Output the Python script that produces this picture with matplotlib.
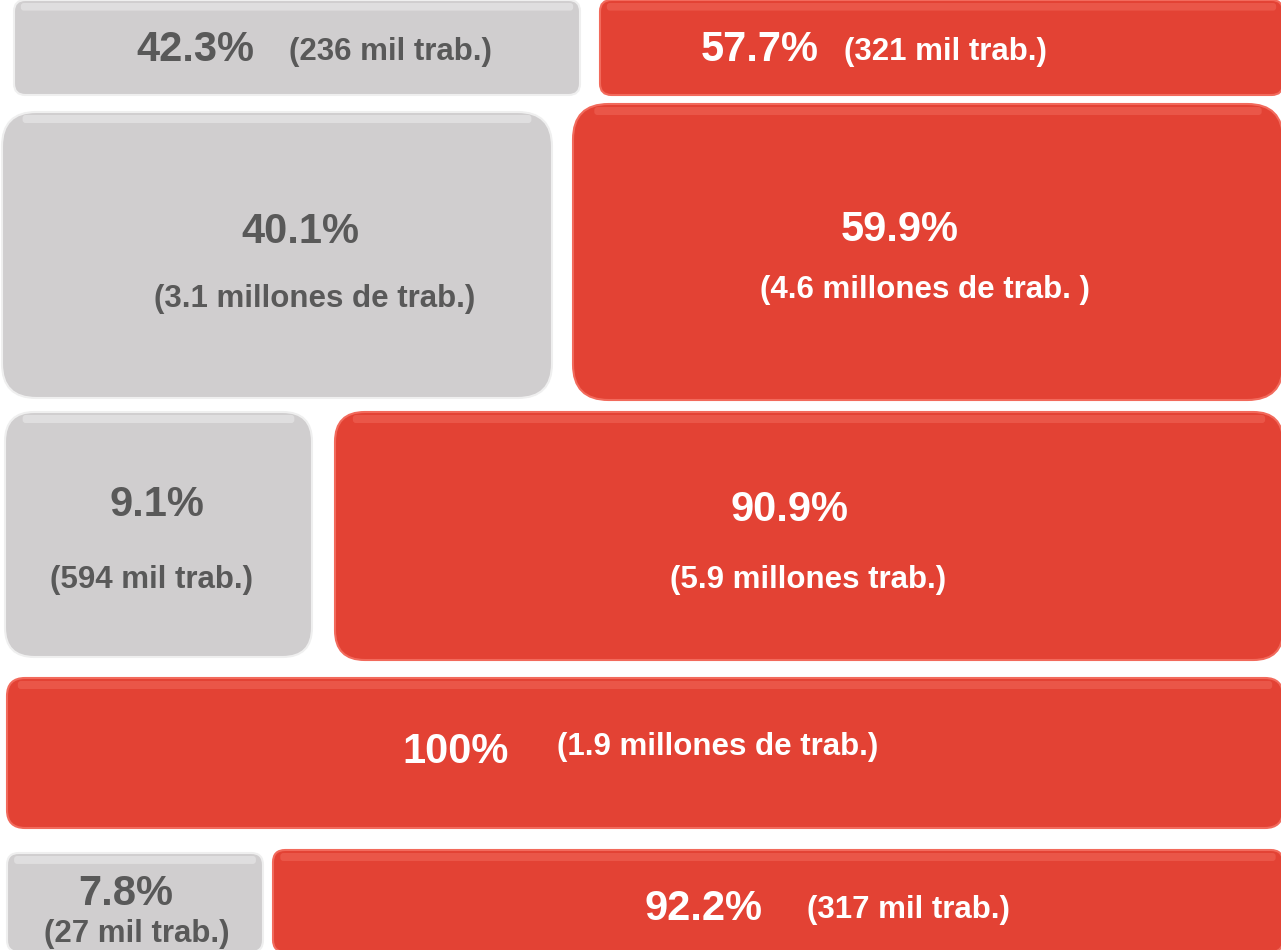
import matplotlib
matplotlib.use("Agg")
import matplotlib.pyplot as plt
from matplotlib.patches import FancyBboxPatch

# data: share of workers (grey = left box, red = right box) per row
grey_pct = [42.3, 40.1, 9.1, None, 7.8]
grey_lbl = ["(236 mil trab.)", "(3.1 millones de trab.)", "(594 mil trab.)", None, "(27 mil trab.)"]
red_pct = [57.7, 59.9, 90.9, 100, 92.2]
red_lbl = ["(321 mil trab.)", "(4.6 millones de trab. )", "(5.9 millones trab.)",
           "(1.9 millones de trab.)", "(317 mil trab.)"]

# layout in pixels: box extents (x0, y0, x1, y1), text centres
grey_box = [(14, 0, 580, 95), (2, 112, 552, 398), (5, 412, 312, 657), None, (7, 853, 263, 952)]
red_box = [(600, 0, 1283, 95), (573, 104, 1283, 400), (335, 412, 1283, 660),
           (7, 678, 1283, 828), (273, 850, 1283, 952)]
grey_txt = [((195, 50), (390, 52)), ((300, 232), (315, 299)), ((157, 505), (152, 580)),
            None, ((126, 894), (137, 934))]
red_txt = [((760, 50), (945, 52)), ((900, 230), (925, 290)), ((790, 510), (808, 580)),
           ((456, 752), (718, 747)), ((704, 909), (908, 910))]

GREY, GREY_HI, GREY_TXT = "#d0cecf", "#efefef", "#595959"
RED, RED_HI = "#e34234", "#f26a5c"

plt.rcParams["font.family"] = ["Liberation Sans", "DejaVu Sans"]

fig = plt.figure(figsize=(12.81, 9.5), dpi=100)
ax = fig.add_axes([0, 0, 1, 1])
ax.set_xlim(0, 1281)
ax.set_ylim(950, 0)
ax.axis("off")


def box(ext, face, hi):
    x0, y0, x1, y1 = ext
    w, h = x1 - x0, y1 - y0
    r = 0.12 * h
    ax.add_patch(FancyBboxPatch((x0, y0), w, h, boxstyle=f"round,pad=0,rounding_size={r}",
                                fc=face, ec=hi, lw=1.5))
    # top glossy strip
    ax.add_patch(FancyBboxPatch((x0 + r * 0.6, y0 + 3), w - r * 1.2, min(8, h * 0.08),
                                boxstyle="round,pad=0,rounding_size=3",
                                fc=hi, ec="none", alpha=0.5))


def label(pos, pct, lbl, color):
    (px, py), (lx, ly) = pos
    ax.text(px, py, f"{pct:g}%", ha="center", va="center", fontsize=30,
            fontweight="bold", color=color)
    ax.text(lx, ly, lbl, ha="center", va="center", fontsize=22.5,
            fontweight="bold", color=color)


for i in range(len(red_pct)):
    if grey_pct[i] is not None:
        box(grey_box[i], GREY, GREY_HI)
        label(grey_txt[i], grey_pct[i], grey_lbl[i], GREY_TXT)
    box(red_box[i], RED, RED_HI)
    label(red_txt[i], red_pct[i], red_lbl[i], "white")

fig.savefig("out.png", dpi=100, facecolor="white")
